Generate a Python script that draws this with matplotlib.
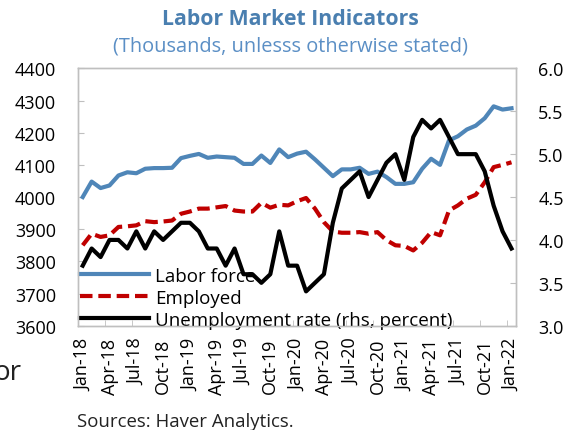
import matplotlib
matplotlib.use("Agg")
import matplotlib.pyplot as plt
import numpy as np

plt.rcParams['font.family'] = ['Open Sans', 'DejaVu Sans']

# monthly, Jan-18 .. Jan-22
months = ['Jan', 'Feb', 'Mar', 'Apr', 'May', 'Jun', 'Jul', 'Aug', 'Sep', 'Oct', 'Nov', 'Dec']
dates = [f"{months[i % 12]}-{18 + i // 12}" for i in range(49)]

labor_force = [4000, 4048, 4028, 4036, 4067, 4077, 4074, 4088, 4090, 4090, 4091, 4121,
               4128, 4134, 4122, 4126, 4124, 4122, 4103, 4103, 4129, 4106, 4148, 4124,
               4135, 4141, 4117, 4091, 4065, 4086, 4086, 4091, 4072, 4079, 4062, 4041,
               4041, 4046, 4088, 4119, 4100, 4176, 4189, 4210, 4222, 4245, 4282, 4272,
               4276]
employed = [3850, 3886, 3876, 3881, 3907, 3909, 3912, 3925, 3922, 3924, 3927, 3948,
            3955, 3964, 3964, 3968, 3972, 3958, 3955, 3955, 3982, 3967, 3976, 3974,
            3987, 3997, 3964, 3922, 3893, 3889, 3889, 3891, 3886, 3891, 3866, 3850,
            3848, 3834, 3858, 3891, 3881, 3958, 3974, 3995, 4007, 4046, 4093, 4100,
            4108]
unemployment = [3.7, 3.9, 3.8, 4.0, 4.0, 3.9, 4.1, 3.9, 4.1, 4.0, 4.1, 4.2,
                4.2, 4.1, 3.9, 3.9, 3.7, 3.9, 3.6, 3.6, 3.5, 3.6, 4.1, 3.7,
                3.7, 3.4, 3.5, 3.6, 4.2, 4.6, 4.7, 4.8, 4.5, 4.7, 4.9, 5.0,
                4.7, 5.2, 5.4, 5.3, 5.4, 5.2, 5.0, 5.0, 5.0, 4.8, 4.4, 4.1,
                3.9]

x = np.arange(len(dates))
frame_col = '#bfbfbf'
fs = 13

fig = plt.figure(figsize=(5.67, 4.31), dpi=100)
ax = fig.add_axes([0.138, 0.242, 0.772, 0.597])
ax2 = ax.twinx()

l1, = ax.plot(x, labor_force, color='#4f86b8', lw=3.0, label='Labor force')
l2, = ax.plot(x, employed, color='#c00000', lw=3.0, ls=(0, (3.0, 1.4)), label='Employed')
l3, = ax2.plot(x, unemployment, color='black', lw=3.0, label='Unemployment rate (rhs, percent)')

ax.set_xlim(-0.5, len(dates) - 0.5)
ax.set_ylim(3600, 4400)
ax.set_yticks(np.arange(3600, 4401, 100))
ax2.set_ylim(3.0, 6.0)
ax2.set_yticks(np.arange(3.0, 6.01, 0.5))
ax2.set_yticklabels([f"{v:.1f}" for v in np.arange(3.0, 6.01, 0.5)])

ax.set_xticks(x[::3])
ax.set_xticklabels(dates[::3], rotation=90)
ax.set_xticks(np.arange(-0.5, len(dates), 3), minor=True)
ax.tick_params(axis='x', which='major', length=0, labelsize=fs, pad=8.5)
ax.tick_params(axis='x', which='minor', direction='in', length=4, color=frame_col)
ax.tick_params(axis='y', direction='in', length=4, color=frame_col, labelsize=fs, pad=16)
ax2.tick_params(axis='y', direction='in', length=4, color=frame_col, labelsize=fs, pad=16)

for a in (ax, ax2):
    for s in a.spines.values():
        s.set_color(frame_col)
        s.set_linewidth(1.0)

leg = ax.legend(handles=[l1, l2, l3], loc='lower left', frameon=False, fontsize=13.5,
                handlelength=3.7, handletextpad=0.3, labelspacing=0.22,
                borderpad=0.1, borderaxespad=0.0, bbox_to_anchor=(0.0, -0.02))

fig.text(0.512, 0.954, 'Labor Market Indicators', ha='center', va='center',
         fontsize=15.3, fontweight='bold', color='#4a7fb0')
fig.text(0.512, 0.891, '(Thousands, unlesss otherwise stated)', ha='center', va='center',
         fontsize=14.4, color='#5b8fc5')
fig.text(0.135, 0.022, 'Sources: Haver Analytics.', ha='left', va='center',
         fontsize=13.4, color='#222222')
fig.text(-0.012, 0.135, 'or', ha='left', va='center', fontsize=20, color='#222222')

fig.savefig('out.png', dpi=100)
